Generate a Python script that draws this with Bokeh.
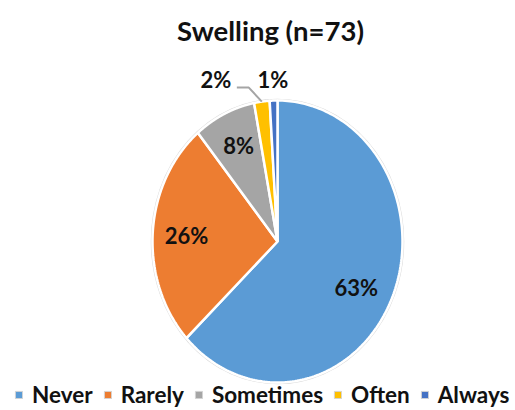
import numpy as np
from bokeh.plotting import figure
from bokeh.models import ColumnDataSource, Range1d, Legend, LegendItem
from bokeh.core.properties import value
from bokeh.embed import file_html
from bokeh.resources import INLINE

# ---- data ----
title_text = "Swelling (n=73)"
categories = ["Never", "Rarely", "Sometimes", "Often", "Always"]
percentages = [63, 26, 8, 2, 1]
colors = ["#5B9BD5", "#ED7D31", "#A5A5A5", "#FFC000", "#4472C4"]

# ---- layout / style ----
W, H = 515, 410
CX, CY, RX, RY = 277, 241, 125, 141
FONT = "Lato"
label_r = [0.73, 0.73, 0.73, 1.0, 1.15]
label_dx = [-5, 0, 0, -46, 0]
label_dy = [5, 0, -3, -22, 0]

p = figure(width=W, height=H, x_range=Range1d(0, W), y_range=Range1d(H, 0),
           output_backend="svg", toolbar_location=None, min_border=0)
p.axis.visible = False
p.grid.visible = False
p.outline_line_color = None
p.background_fill_color = "white"

vals = np.array(percentages, dtype=float)
frac = vals / vals.sum()
ends = np.cumsum(frac) * 2 * np.pi
starts = ends - frac * 2 * np.pi

xs, ys = [], []
for a0, a1 in zip(starts, ends):
    t = np.linspace(a0, a1, 200)
    xs.append([CX] + list(CX + RX * np.sin(t)))
    ys.append([CY] + list(CY - RY * np.cos(t)))

src = ColumnDataSource(dict(xs=xs, ys=ys, color=colors, label=categories))

# faint outer rim
p.ellipse(x=[CX], y=[CY], width=[2 * RX + 2], height=[2 * RY + 2],
          fill_alpha=0, line_color="#d9d9d9", line_width=1.5)
r = p.patches("xs", "ys", source=src, fill_color="color", line_color="white", line_width=2.5)

# legend swatches (not drawn in the plot area: NaN positions)
n = len(categories)
leg_src = ColumnDataSource(dict(l=[np.nan] * n, r=[np.nan] * n, t=[np.nan] * n,
                                b=[np.nan] * n, color=colors))
sw = p.quad(left="l", right="r", top="t", bottom="b", source=leg_src,
            fill_color="color", line_color="#d4d4d4", line_width=1)

# labels
mids = (starts + ends) / 2
lx, ly, lt = [], [], []
for i, m in enumerate(mids):
    lx.append(CX + RX * label_r[i] * np.sin(m) + label_dx[i])
    ly.append(CY - RY * label_r[i] * np.cos(m) + label_dy[i])
    lt.append(f"{percentages[i]}%")

# leader line for the displaced label
for i in range(n):
    if i == 3:
        ex = CX + RX * np.sin(mids[i])
        ey = CY - RY * np.cos(mids[i])
        p.line([lx[i] + 21, ex - 13, ex], [ly[i] + 8, ly[i] + 8, ey],
               line_color="#A5A5A5", line_width=2)

p.text(x=lx, y=ly, text=lt, text_font=value(FONT), text_font_style="bold",
       text_font_size="22px", text_align="center", text_baseline="middle", text_color="#111111")

# title
p.text(x=[270], y=[30], text=[title_text], text_font=value(FONT), text_font_style="bold",
       text_font_size="27.5px", text_align="center", text_baseline="middle", text_color="#111111")

items = [LegendItem(label=c, renderers=[sw], index=i) for i, c in enumerate(categories)]
legend = Legend(items=items, orientation="horizontal", location=(14, 2),
                glyph_width=9, glyph_height=9, label_standoff=9, spacing=10,
                padding=0, margin=0, border_line_alpha=0, background_fill_alpha=0,
                label_text_font=FONT, label_text_font_style="bold",
                label_text_font_size="22.5px", label_height=20, label_text_color="#111111")
p.add_layout(legend, "center")

open("out.html", "w").write(file_html(p, INLINE))
